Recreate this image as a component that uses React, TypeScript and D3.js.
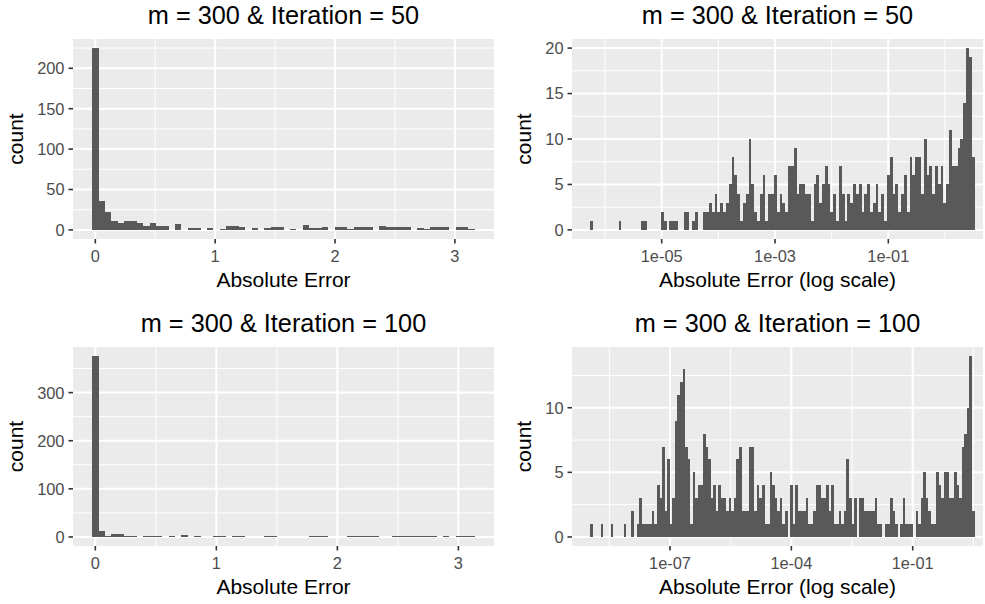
import React from 'react';
import * as d3 from 'd3';

const FONT = '"Liberation Sans", Arial, Helvetica, sans-serif';

// ---------- data ----------
// Top-left: Absolute Error, m = 300 & Iteration = 50 (60 bins, first/last bin centre)
const tlCounts = [
  225, 36, 22, 11, 9, 11, 11, 9, 5, 9,
  5, 5, 0, 7, 0, 2, 2, 0, 2, 0,
  1, 5, 5, 3, 0, 2, 0, 2, 3, 3,
  0, 1, 0, 6, 2, 2, 3, 0, 3, 3,
  1, 3, 3, 3, 0, 5, 4, 3, 3, 3,
  0, 2, 1, 3, 3, 3, 0, 3, 3, 1,
];
const tlRange = [0, 3.14];
const tlYTicks = [0, 50, 100, 150, 200];

// Bottom-left: Absolute Error, m = 300 & Iteration = 100
const blCounts = [
  376, 12, 3, 6, 6, 3, 3, 0, 3, 3,
  3, 0, 2, 0, 5, 0, 2, 0, 0, 1,
  1, 0, 2, 2, 0, 0, 0, 2, 2, 0,
  0, 0, 0, 0, 2, 1, 2, 0, 0, 0,
  2, 2, 2, 2, 1, 0, 0, 2, 2, 2,
  1, 2, 2, 2, 0, 1, 0, 1, 1, 1,
];
const blRange = [0, 3.11];
const blYTicks = [0, 100, 200, 300];

const linXTicks = [0, 1, 2, 3];
const linXTickLabels = ['0', '1', '2', '3'];

// Top-right: log10(Absolute Error), Iteration = 50
const trCounts = [
  1, 0, 0, 0, 0, 0, 0, 0, 0, 0,
  1, 0, 0, 0, 0, 0, 0, 0, 1, 1,
  0, 0, 0, 0, 0, 2, 1, 0, 1, 1,
  1, 0, 0, 2, 2, 0, 1, 2, 0, 0,
  2, 2, 3, 2, 4, 2, 3, 2, 3, 5,
  8, 6, 4, 1, 3, 4, 10, 5, 2, 1,
  4, 6, 1, 4, 4, 6, 2, 4, 3, 2,
  7, 7, 9, 4, 5, 5, 4, 4, 1, 5,
  6, 3, 5, 7, 5, 2, 4, 1, 7, 4,
  1, 4, 3, 5, 4, 5, 2, 4, 5,
  2, 3, 5, 2, 4, 1, 6, 8, 4, 5,
  2, 4, 6, 2, 8, 6, 8, 8, 4, 10,
  6, 7, 4, 7, 5, 7, 3, 5, 11, 7,
  7, 9, 10, 14, 20, 19, 8,
];
const trLogRange = [-6.235, 0.497];
const trLogDomain: [number, number] = [-6.583, 0.671];
const trXTicks = [1e-5, 1e-3, 1e-1];
const trXTickLabels = ['1e-05', '1e-03', '1e-01'];
const trYTicks = [0, 5, 10, 15, 20];

// Bottom-right: log10(Absolute Error), Iteration = 100
const brCounts = [
  1, 0, 0, 0, 1, 0, 0, 0, 1, 0,
  0, 0, 0, 1, 0, 0, 2, 0, 1, 3,
  1, 1, 1, 1, 2, 1, 4, 3, 7, 2,
  6, 1, 3, 9, 11, 12, 13, 7, 6, 1,
  5, 3, 4, 4, 8, 7, 6, 3, 4, 2,
  4, 3, 3, 2, 3, 2, 3, 6, 7, 2,
  2, 2, 7, 7, 2, 4, 3, 4, 1, 1,
  5, 4, 3, 2, 3, 1, 2, 0, 4, 1,
  4, 2, 2, 2, 3, 1, 1, 2, 4, 4,
  3, 3, 4, 2, 4, 1, 1, 2, 1, 2,
  6, 3, 1, 3, 0, 3, 3, 2, 2, 2,
  2, 3, 1, 1, 0, 1, 1, 3, 2, 1,
  0, 1, 3, 1, 1, 1, 0, 2, 1, 3,
  5, 3, 2, 1, 1, 5, 4, 3, 5, 5,
  3, 3, 5, 4, 3, 7, 8, 10, 14, 2,
];
const brLogRange = [-8.936, 0.497];
const brLogDomain: [number, number] = [-9.423, 0.738];
const brXTicks = [1e-7, 1e-4, 1e-1];
const brXTickLabels = ['1e-07', '1e-04', '1e-01'];
const brYTicks = [0, 5, 10];

// ---------- component ----------
type PanelProps = {
  x0: number; x1: number; y0: number; y1: number;
  counts: number[]; range: number[]; log: boolean;
  logDomain?: [number, number];
  xTicks: number[]; xTickLabels: string[]; yTicks: number[];
  title: string; xTitle: string;
};

const TICK = 4.5;
const TITLE_SIZE = 25.3;
const AXIS_TITLE_SIZE = 21;
const TICK_SIZE = 16.4;

function minorsOf(majors: number[], dom: [number, number]) {
  const step = majors[1] - majors[0];
  const out: number[] = [];
  for (let t = majors[0] - step * 1.5; t <= majors[majors.length - 1] + step * 1.5 + 1e-9; t += step) {
    if (t > dom[0] && t < dom[1] && !majors.some(m => Math.abs(m - t) < 1e-9)) out.push(t);
  }
  return out;
}

function Panel(p: PanelProps) {
  const { x0, x1, y0, y1, counts, range, log } = p;
  const n = counts.length;
  const w = (range[1] - range[0]) / (n - 1);
  let tDom: [number, number];
  if (p.logDomain) tDom = p.logDomain;
  else {
    const a = range[0] - w / 2, b = range[1] + w / 2, pad = 0.05 * (b - a);
    tDom = [a - pad, b + pad];
  }
  const xs: any = log
    ? d3.scaleLog().domain([10 ** tDom[0], 10 ** tDom[1]]).range([x0, x1])
    : d3.scaleLinear().domain(tDom).range([x0, x1]);
  const fromT = (t: number) => (log ? 10 ** t : t);
  const toT = (v: number) => (log ? Math.log10(v) : v);
  const yMax = d3.max(counts) as number;
  const ys = d3.scaleLinear().domain([-0.05 * yMax, 1.05 * yMax]).range([y1, y0]);

  const xMajT = p.xTicks.map(toT);
  const xMinT = minorsOf(xMajT, tDom);
  const yDom = ys.domain() as [number, number];
  const yMin = minorsOf(p.yTicks, yDom);

  const maxLabelChars = d3.max(p.yTicks, d => String(d).length) as number;
  const yTitleX = x0 - TICK - 4 - maxLabelChars * TICK_SIZE * 0.556 - 13.8;
  const cx = (x0 + x1) / 2;
  const cy = (y0 + y1) / 2;

  return (
    <g>
      <rect x={x0} y={y0} width={x1 - x0} height={y1 - y0} fill="#EBEBEB" />
      {xMinT.map((t, i) => (
        <line key={'xm' + i} x1={xs(fromT(t))} x2={xs(fromT(t))} y1={y0} y2={y1} stroke="#fff" strokeWidth={1} />
      ))}
      {yMin.map((t, i) => (
        <line key={'ym' + i} x1={x0} x2={x1} y1={ys(t)} y2={ys(t)} stroke="#fff" strokeWidth={1} />
      ))}
      {p.xTicks.map((t, i) => (
        <line key={'xM' + i} x1={xs(t)} x2={xs(t)} y1={y0} y2={y1} stroke="#fff" strokeWidth={2} />
      ))}
      {p.yTicks.map((t, i) => (
        <line key={'yM' + i} x1={x0} x2={x1} y1={ys(t)} y2={ys(t)} stroke="#fff" strokeWidth={2} />
      ))}
      <g shapeRendering="crispEdges">
        {counts.map((c, i) => {
          if (c <= 0) return null;
          const c0 = range[0] + (i - 0.5) * w;
          const c1 = range[0] + (i + 0.5) * w;
          const xa = xs(fromT(c0));
          const xb = xs(fromT(c1));
          return <rect key={'b' + i} x={xa} y={ys(c)} width={xb - xa} height={ys(0) - ys(c)} fill="#595959" />;
        })}
      </g>
      {p.yTicks.map((t, i) => (
        <g key={'yt' + i}>
          <line x1={x0 - TICK} x2={x0} y1={ys(t)} y2={ys(t)} stroke="#333333" strokeWidth={1.6} />
          <text x={x0 - TICK - 4} y={ys(t)} dy="0.36em" textAnchor="end" fontSize={TICK_SIZE} fill="#4D4D4D" fontFamily={FONT}>{t}</text>
        </g>
      ))}
      {p.xTicks.map((t, i) => (
        <g key={'xt' + i}>
          <line x1={xs(t)} x2={xs(t)} y1={y1} y2={y1 + TICK} stroke="#333333" strokeWidth={1.6} />
          <text x={xs(t)} y={y1 + 23} textAnchor="middle" fontSize={TICK_SIZE} fill="#4D4D4D" fontFamily={FONT}>{p.xTickLabels[i]}</text>
        </g>
      ))}
      <text x={cx} y={y1 + 47.5} textAnchor="middle" fontSize={AXIS_TITLE_SIZE} fill="#000" fontFamily={FONT}>{p.xTitle}</text>
      <text transform={`translate(${yTitleX},${cy}) rotate(-90)`} textAnchor="middle" fontSize={AXIS_TITLE_SIZE} fill="#000" fontFamily={FONT}>count</text>
      <text x={cx} y={y0 - 15.5} textAnchor="middle" fontSize={TITLE_SIZE} fill="#000" fontFamily={FONT}>{p.title}</text>
    </g>
  );
}

export default function App() {
  return (
    <svg width={985} height={604} style={{ position: 'absolute', left: 0, top: 0, background: '#fff' }}>
      <rect x={0} y={0} width={985} height={604} fill="#fff" />
      <Panel x0={73} x1={494} y0={39} y1={239} counts={tlCounts} range={tlRange} log={false}
        xTicks={linXTicks} xTickLabels={linXTickLabels} yTicks={tlYTicks}
        title="m = 300 & Iteration = 50" xTitle="Absolute Error" />
      <Panel x0={572} x1={983} y0={39} y1={239} counts={trCounts} range={trLogRange} log={true}
        logDomain={trLogDomain} xTicks={trXTicks} xTickLabels={trXTickLabels} yTicks={trYTicks}
        title="m = 300 & Iteration = 50" xTitle="Absolute Error (log scale)" />
      <Panel x0={73} x1={494} y0={347} y1={546} counts={blCounts} range={blRange} log={false}
        xTicks={linXTicks} xTickLabels={linXTickLabels} yTicks={blYTicks}
        title="m = 300 & Iteration = 100" xTitle="Absolute Error" />
      <Panel x0={572} x1={983} y0={347} y1={546} counts={brCounts} range={brLogRange} log={true}
        logDomain={brLogDomain} xTicks={brXTicks} xTickLabels={brXTickLabels} yTicks={brYTicks}
        title="m = 300 & Iteration = 100" xTitle="Absolute Error (log scale)" />
    </svg>
  );
}
